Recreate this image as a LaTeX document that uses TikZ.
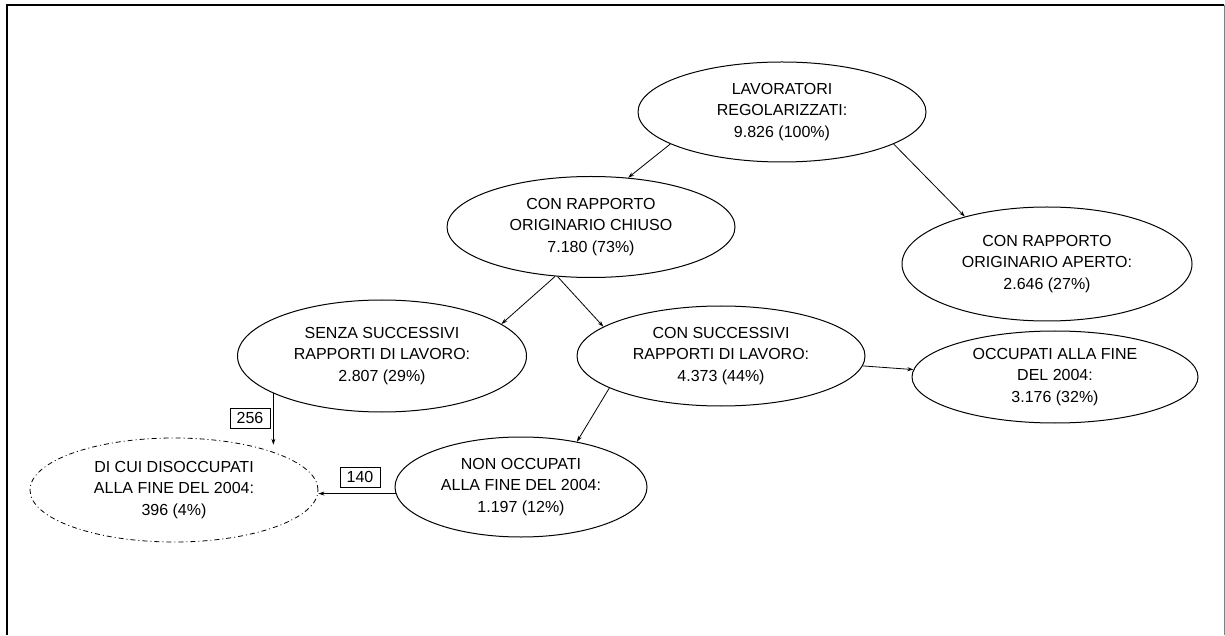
\documentclass[tikz,border=0pt]{standalone}
\usepackage{fontspec}
\setmainfont{Liberation Sans}
\usetikzlibrary{arrows.meta,shapes.geometric}
\begin{document}
\begin{tikzpicture}[x=1pt,y=1pt,
  txt/.style={font=\fontsize{16}{21.5}\selectfont, align=center},
  oval/.style={txt, ellipse, draw, line width=1pt, inner sep=0pt},
  dashoval/.style={oval, dash pattern=on 5pt off 3pt on 1pt off 3pt, line width=0.8pt},
  conn/.style={line width=0.8pt, -{Stealth[length=6pt,width=4pt]}},
  numbox/.style={txt, draw, line width=0.8pt, minimum width=40pt, minimum height=20pt, inner sep=0pt}]
\useasboundingbox (0,0) rectangle (1225,635);
% frame
\draw[line width=2pt] (7,0) -- (7,630) -- (1224,630);
\draw[line width=1pt, gray] (1224,0) -- (1224,630);
% nodes
\node[oval, minimum width=288pt, minimum height=100pt] (L) at (782,523) {LAVORATORI\\REGOLARIZZATI:\\9.826 (100\%)};
\node[oval, minimum width=288pt, minimum height=101pt] (C) at (591,408) {CON RAPPORTO\\ORIGINARIO CHIUSO\\7.180 (73\%)};
\node[oval, minimum width=290pt, minimum height=114pt] (A) at (1047,371) {CON RAPPORTO\\ORIGINARIO APERTO:\\2.646 (27\%)};
\node[oval, minimum width=289pt, minimum height=112pt] (S) at (382,279) {SENZA SUCCESSIVI\\RAPPORTI DI LAVORO:\\2.807 (29\%)};
\node[oval, minimum width=288pt, minimum height=100pt] (S2) at (721,279) {CON SUCCESSIVI\\RAPPORTI DI LAVORO:\\4.373 (44\%)};
\node[oval, minimum width=286pt, minimum height=92pt] (O) at (1055,258) {OCCUPATI ALLA FINE\\DEL 2004:\\3.176 (32\%)};
\node[oval, minimum width=252pt, minimum height=100pt] (N) at (521,148) {NON OCCUPATI\\ALLA FINE DEL 2004:\\1.197 (12\%)};
\node[dashoval, minimum width=288pt, minimum height=104pt] (D) at (174,145) {DI CUI DISOCCUPATI\\ALLA FINE DEL 2004:\\396 (4\%)};
\node[numbox] (n256) at (250,217) {256};
\node[numbox] (n140) at (360,158) {140};
% connectors
\draw[conn] (L.196.7) -- (C.53.5);
\draw[conn] (L.344.7) -- (A.150);
\draw[conn] (C.234) -- (S.15.4);
\draw[conn] (C.236) -- (S2.166);
\draw[conn] (S2.356.4) -- (O.177.9);
\draw[conn] (S2.196.8) -- (N.39.7);
\draw[conn] (S.199.7) -- (S.199.7 |- D.32);
\draw[conn] (N.183.7) -- (N.183.7 -| D.east);
\end{tikzpicture}
\end{document}
